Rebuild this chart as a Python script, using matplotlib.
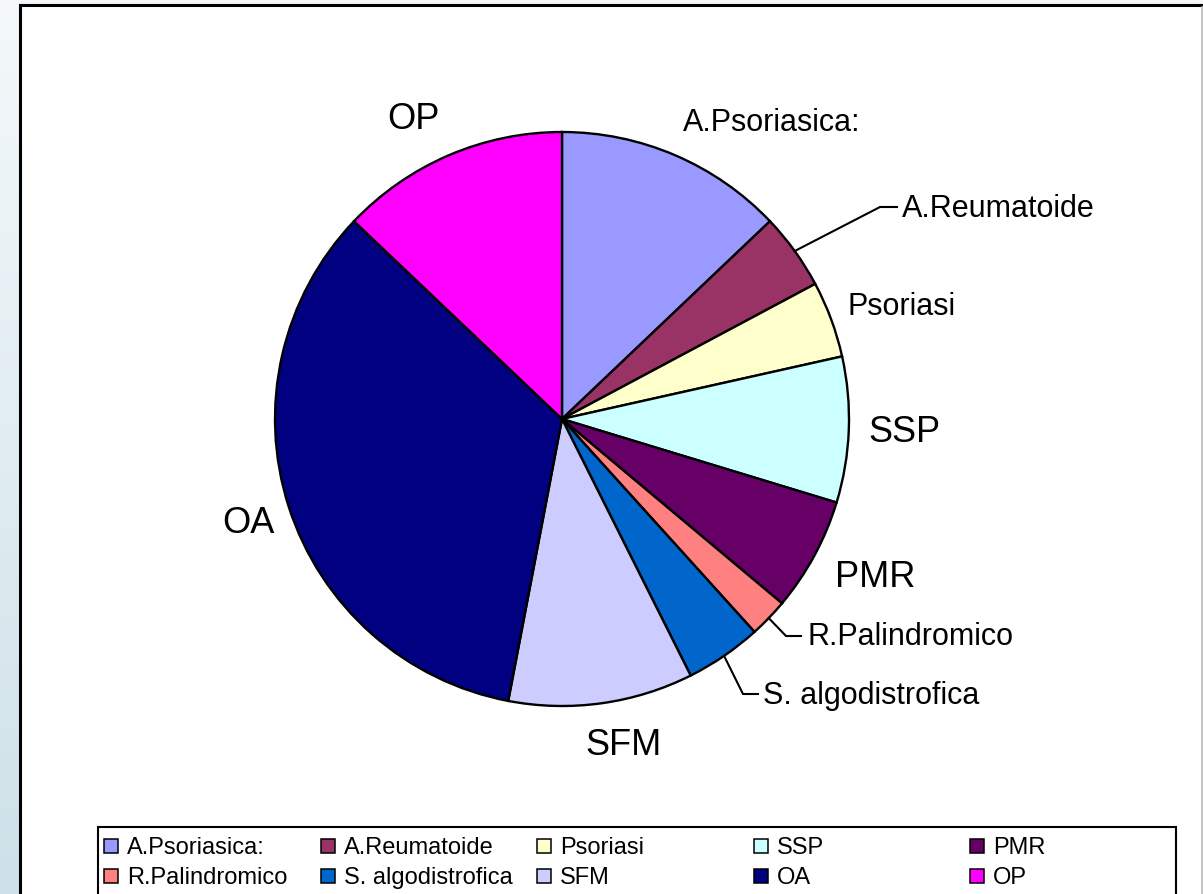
import numpy as np
import matplotlib.pyplot as plt
from matplotlib.patches import Rectangle

W, H = 1203, 895

categories = ["A.Psoriasica:", "A.Reumatoide", "Psoriasi", "SSP", "PMR",
              "R.Palindromico", "S. algodistrofica", "SFM", "OA", "OP"]
shares = [12.9, 4.3, 4.3, 8.2, 6.4, 2.2, 4.3, 10.4, 34.1, 12.9]
colors = ["#9999FF", "#993366", "#FFFFCC", "#CCFFFF", "#660066",
          "#FF8080", "#0066CC", "#CCCCFF", "#000080", "#FF00FF"]

# label layout in pixels from the top-left: (left x, baseline y, font size)
label_layout = [
    (683, 131, 22), (902, 217, 22), (847, 315, 22), (868, 442, 26), (835, 587, 26),
    (807, 645, 22), (763, 704, 22), (585, 755, 26), (222, 533, 26), (387, 129, 26),
]
# elbow and end of leader lines, for the labels that have one
leaders = {1: ((880, 208), (897, 208)),
           5: ((786, 637), (801, 637)),
           6: ((743, 695), (758, 695))}

plt.rcParams["font.family"] = ["Liberation Sans", "DejaVu Sans"]

fig = plt.figure(figsize=(W / 100, H / 100), dpi=100)
ax = fig.add_axes([0, 0, 1, 1])


def py(y):
    return H - y


# backdrop: pale blue gradient, white chart area with a black frame
grad = np.linspace(0, 1, 256).reshape(-1, 1)
top = np.array([244, 248, 250]) / 255
bot = np.array([205, 225, 232]) / 255
img = top + (bot - top) * grad[:, :, None]
ax.imshow(img, extent=(0, W, 0, H), aspect="auto", zorder=0)
ax.add_patch(Rectangle((20, -10), W, py(6) + 10, facecolor="white",
                       edgecolor="black", linewidth=2.2, zorder=1))
ax.plot([1201.5, 1201.5], [0, py(8)], color="#BBBBBB", linewidth=1.2, zorder=2)

cx, cy, r = 562, py(420), 287
wedges, _ = ax.pie(shares, colors=colors, startangle=90, counterclock=False,
                   center=(cx, cy), radius=r,
                   wedgeprops=dict(edgecolor="black", linewidth=1.7, zorder=3))
for w in wedges:
    w.set_zorder(3)

for i, (name, (lx, ly, fs)) in enumerate(zip(categories, label_layout)):
    ax.text(lx, py(ly), name, fontsize=fs, ha="left", va="baseline", zorder=4)
    if i in leaders:
        mid = np.deg2rad((wedges[i].theta1 + wedges[i].theta2) / 2)
        x0, y0 = cx + r * np.cos(mid), cy + r * np.sin(mid)
        (ex, ey), (tx, ty) = leaders[i]
        ax.plot([x0, ex, tx], [y0, py(ey), py(ty)], color="black",
                linewidth=1.5, zorder=4, solid_joinstyle="miter")

# legend box, five columns filled row by row
ax.add_patch(Rectangle((98, -10), 1176 - 98, py(828) + 10, facecolor="white",
                       edgecolor="black", linewidth=1.5, zorder=4))
col_x = [104 + 216.5 * k for k in range(5)]
row_base = [854, 884]
for i, (name, c) in enumerate(zip(categories, colors)):
    row, col = divmod(i, 5)
    x = col_x[col]
    b = row_base[row]
    ax.add_patch(Rectangle((x, py(b)), 14, 14, facecolor=c, edgecolor="black",
                           linewidth=1.1, zorder=5))
    ax.text(x + 23, py(b), name, fontsize=17, ha="left", va="baseline", zorder=5)

ax.set_xlim(0, W)
ax.set_ylim(0, H)
ax.set_aspect("auto")
ax.axis("off")

fig.savefig("out.png", dpi=100)
